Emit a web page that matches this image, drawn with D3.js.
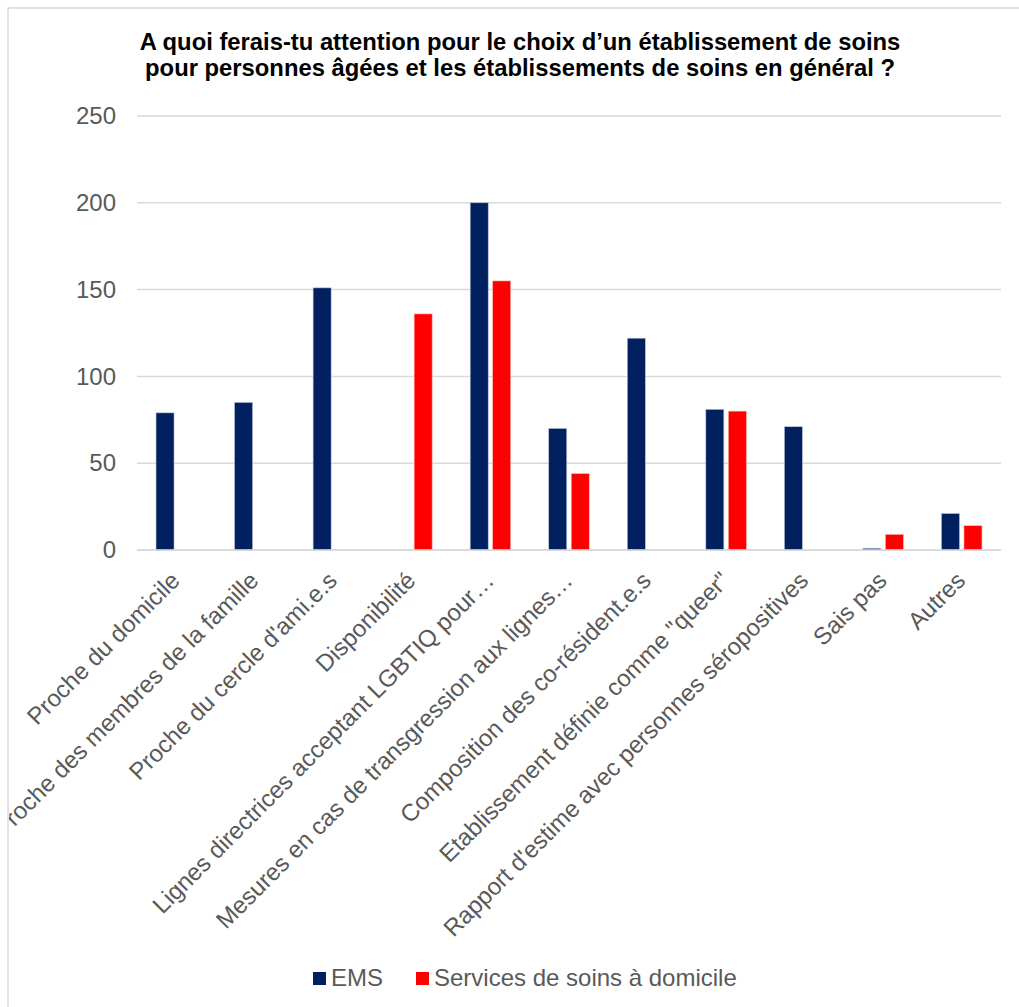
<!DOCTYPE html>
<html>
<head>
<meta charset="utf-8">
<script src="https://cdn.jsdelivr.net/npm/d3@7"></script>
<style>
  html, body { margin: 0; padding: 0; background: #fff; }
  svg { display: block; font-family: Arial, "Liberation Sans", sans-serif; }
</style>
</head>
<body>
<svg id="chart" width="1019" height="1007"></svg>
<script>
const categories = [
  "Proche du domicile",
  "Proche des membres de la famille",
  "Proche du cercle d'ami.e.s",
  "Disponibilité",
  "Lignes directrices acceptant LGBTIQ pour…",
  "Mesures en cas de transgression aux lignes…",
  "Composition des co-résident.e.s",
  "Etablissement définie comme \"queer\"",
  "Rapport d'estime avec personnes séropositives",
  "Sais pas",
  "Autres"
];
const seriesNames = ["EMS", "Services de soins à domicile"];
const emsValues = [79, 85, 151, 0, 200, 70, 122, 81, 71, 1, 21];
const soinsValues = [0, 0, 0, 136, 155, 44, 0, 80, 0, 9, 14];
const yTicks = [0, 50, 100, 150, 200, 250];
const titleLines = [
  "A quoi ferais-tu attention pour le choix d\u2019un établissement de soins",
  "pour personnes âgées et les établissements de soins en général ?"
];
const colors = ["#002060", "#FF0000"];

(function () {
const svg = d3.select("#chart");
const W = 1019, H = 1007;

svg.append("rect").attr("x", 8).attr("y", 8).attr("width", W + 10).attr("height", H + 10)
  .attr("fill", "#fff").attr("stroke", "#d9d9d9").attr("stroke-width", 1.5);

svg.append("clipPath").attr("id", "clip")
  .append("rect").attr("x", 9).attr("y", 9).attr("width", W).attr("height", H);

const g = svg.append("g").attr("clip-path", "url(#clip)");

const pLeft = 137, pRight = 1001, pTop = 116, pBottom = 550;

const x0 = d3.scaleBand().domain(categories).range([pLeft, pRight]).paddingInner(0).paddingOuter(0);
const groupW = 40.5;
const x1 = d3.scaleBand().domain(seriesNames).range([0, groupW]).paddingInner(0.2).paddingOuter(0);
const y = d3.scaleLinear().domain([0, 250]).range([pBottom, pTop]);

g.append("g").selectAll("line").data(yTicks).join("line")
  .attr("x1", pLeft).attr("x2", pRight)
  .attr("y1", d => y(d)).attr("y2", d => y(d))
  .attr("stroke", "#d9d9d9").attr("stroke-width", 1.5);

const yAxis = d3.axisLeft(y).tickValues(yTicks).tickSize(0).tickPadding(0);
const ya = g.append("g").attr("transform", `translate(${pLeft - 21},0)`).call(yAxis);
ya.select(".domain").remove();
ya.selectAll("text").attr("font-size", 24).attr("fill", "#595959")
  .attr("font-family", "Arial, 'Liberation Sans', sans-serif");

const data = categories.map((c, i) => ({ cat: c, vals: [emsValues[i], soinsValues[i]] }));
const groups = g.append("g").selectAll("g").data(data).join("g")
  .attr("transform", d => `translate(${x0(d.cat) + (x0.bandwidth() - groupW) / 2},0)`);
groups.selectAll("rect").data(d => d.vals.map((v, k) => ({ v, s: seriesNames[k], k })).filter(e => e.v > 0))
  .join("rect")
  .attr("x", e => x1(e.s))
  .attr("width", x1.bandwidth())
  .attr("y", e => y(e.v))
  .attr("height", e => y(0) - y(e.v))
  .attr("fill", e => colors[e.k])
  .attr("stroke", e => e.k === 0 ? "#b4bfd6" : "#ffb3b3")
  .attr("stroke-width", 0.6);

g.append("line").attr("x1", pLeft).attr("x2", pRight).attr("y1", pBottom).attr("y2", pBottom)
  .attr("stroke", "#d9d9d9").attr("stroke-width", 1.5);

const xAxis = d3.axisBottom(x0).tickSize(0).tickPadding(0);
const xa = g.append("g").attr("transform", `translate(0,${pBottom})`).call(xAxis);
xa.select(".domain").remove();
xa.selectAll(".tick text")
  .attr("font-size", 24).attr("fill", "#595959")
  .attr("font-family", "Arial, 'Liberation Sans', sans-serif")
  .attr("text-anchor", "end")
  .attr("dy", null).attr("y", null)
  .attr("transform", "translate(5,32) rotate(-45)");

g.append("g").selectAll("text").data(titleLines).join("text")
  .attr("x", 520).attr("y", (d, i) => 50 + i * 26)
  .attr("text-anchor", "middle")
  .attr("font-size", 23.8).attr("font-weight", "bold").attr("fill", "#000")
  .text(d => d);

const legendX = [313, 416];
const lg = g.append("g").selectAll("g").data(seriesNames).join("g")
  .attr("transform", (d, i) => `translate(${legendX[i]},972)`);
lg.append("rect").attr("width", 13).attr("height", 13).attr("fill", (d, i) => colors[i]);
lg.append("text").attr("x", 18).attr("y", 14).attr("font-size", 24).attr("fill", "#595959")
  .text(d => d);
})();
</script>
</body>
</html>
